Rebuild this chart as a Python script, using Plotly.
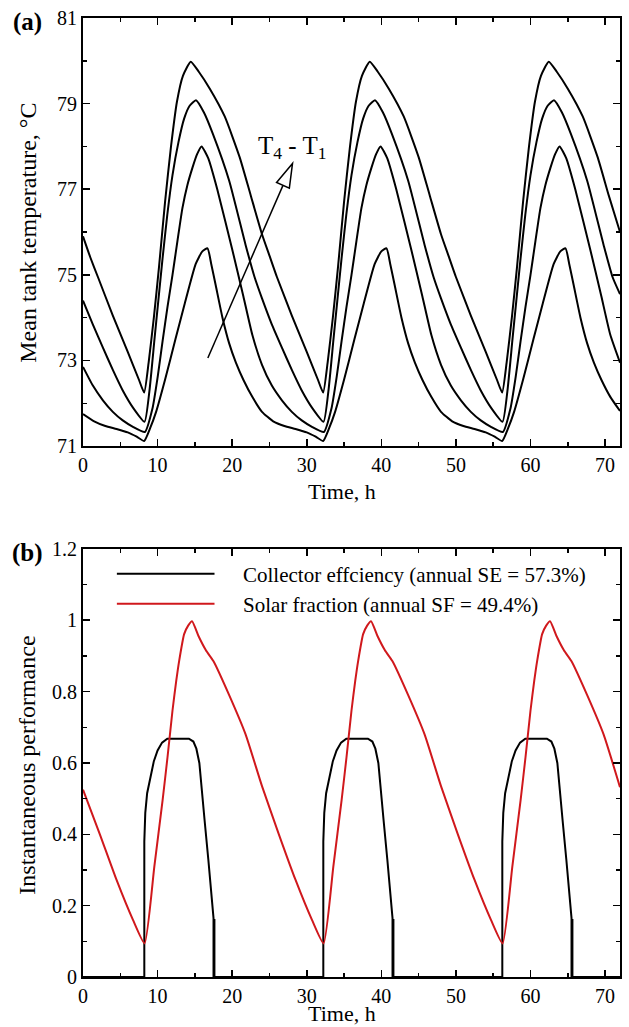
import plotly.graph_objects as go

# ---------------- data ----------------
# (a) mean tank temperatures, deg C
T4_t = [0, 1, 2, 4, 6, 7.5, 8.2, 8.8, 9.5, 10.2, 11, 11.8, 12.6, 13.4, 14.45, 15.5, 17, 19, 21, 22.5,
        24, 25, 26, 28, 30, 31.5, 32.2, 32.8, 33.5, 34.2, 35, 35.8, 36.6, 37.4, 38.45, 39.5, 41, 43, 45, 46.5,
        48, 49, 50, 52, 54, 55.5, 56.2, 56.8, 57.5, 58.2, 59, 59.8, 60.6, 61.4, 62.45, 63.5, 65, 67, 69, 70.5, 72]
T4_v = [75.9, 75.4, 74.95, 74.05, 73.2, 72.55, 72.25, 72.95, 74.0, 75.2, 76.7, 78.0, 79.05, 79.65, 79.98, 79.75, 79.35, 78.7, 77.75, 76.85,
        75.95, 75.45, 74.95, 74.05, 73.2, 72.55, 72.25, 72.95, 74.0, 75.2, 76.7, 78.0, 79.05, 79.65, 79.98, 79.75, 79.35, 78.7, 77.75, 76.85,
        75.95, 75.45, 74.95, 74.05, 73.2, 72.55, 72.25, 72.95, 74.0, 75.2, 76.7, 78.0, 79.05, 79.65, 79.98, 79.75, 79.35, 78.7, 77.75, 76.85, 76.0]

T3_t = [0, 1.3, 2.67, 4, 5.33, 6.7, 8.25, 8.9, 9.56, 10.1, 10.67, 11.3, 12.0, 12.8, 13.56, 14.3, 15.15, 16.2, 17.4, 19.6, 21.8, 23,
        24, 25.3, 26.67, 28, 29.33, 30.7, 32.25, 32.9, 33.56, 34.1, 34.67, 35.3, 36.0, 36.8, 37.56, 38.3, 39.15, 40.2, 41.4, 43.6, 45.8, 47,
        48, 49.3, 50.67, 52, 53.33, 54.7, 56.25, 56.9, 57.56, 58.1, 58.67, 59.3, 60.0, 60.8, 61.56, 62.3, 63.15, 64.2, 65.4, 67.6, 69.8, 71, 72]
T3_v = [74.4, 73.85, 73.3, 72.78, 72.3, 71.9, 71.57, 72.28, 73.45, 74.4, 75.39, 76.4, 77.33, 78.1, 78.65, 78.95, 79.08, 78.8, 78.3, 77.2, 75.7, 74.95,
        74.45, 73.85, 73.3, 72.78, 72.3, 71.9, 71.57, 72.28, 73.45, 74.4, 75.39, 76.4, 77.33, 78.1, 78.65, 78.95, 79.08, 78.8, 78.3, 77.2, 75.7, 74.95,
        74.45, 73.85, 73.3, 72.78, 72.3, 71.9, 71.57, 72.28, 73.45, 74.4, 75.39, 76.4, 77.33, 78.1, 78.65, 78.95, 79.08, 78.8, 78.3, 77.2, 75.7, 74.95, 74.55]

T2_t = [0, 1.3, 2.67, 4, 5.33, 6.7, 8.3, 9.33, 10.0, 10.67, 11.33, 12.0, 12.67, 13.33, 14.0, 14.67, 15.3, 15.9, 16.8, 18, 20, 21.5, 22.7,
        24, 25.3, 26.67, 28, 29.33, 30.7, 32.3, 33.33, 34.0, 34.67, 35.33, 36.0, 36.67, 37.33, 38.0, 38.67, 39.3, 39.9, 40.8, 42, 44, 45.5, 46.7,
        48, 49.3, 50.67, 52, 53.33, 54.7, 56.3, 57.33, 58.0, 58.67, 59.33, 60.0, 60.67, 61.33, 62.0, 62.67, 63.3, 63.9, 64.8, 66, 68, 69.5, 70.7, 72]
T2_v = [72.85, 72.42, 72.07, 71.8, 71.6, 71.45, 71.33, 71.89, 72.6, 73.45, 74.25, 75.0, 75.8, 76.56, 77.1, 77.5, 77.82, 78.0, 77.72, 77.0, 75.6, 74.5, 73.6,
        72.9, 72.42, 72.07, 71.8, 71.6, 71.45, 71.33, 71.89, 72.6, 73.45, 74.25, 75.0, 75.8, 76.56, 77.1, 77.5, 77.82, 78.0, 77.72, 77.0, 75.6, 74.5, 73.6,
        72.9, 72.42, 72.07, 71.8, 71.6, 71.45, 71.33, 71.89, 72.6, 73.45, 74.25, 75.0, 75.8, 76.56, 77.1, 77.5, 77.82, 78.0, 77.72, 77.0, 75.6, 74.5, 73.6, 72.95]

T1_t = [0, 1.5, 3, 4.5, 6, 7.2, 8.2, 9.0, 9.8, 11, 12.4, 13.6, 15.1, 16.0, 16.7, 17.2, 17.8, 18.7, 19.6, 20.5, 21.5, 22.7,
        24, 25.5, 27, 28.5, 30, 31.2, 32.2, 33.0, 33.8, 35, 36.4, 37.6, 39.1, 40.0, 40.7, 41.2, 41.8, 42.7, 43.6, 44.5, 45.5, 46.7,
        48, 49.5, 51, 52.5, 54, 55.2, 56.2, 57.0, 57.8, 59, 60.4, 61.6, 63.1, 64.0, 64.7, 65.2, 65.8, 66.7, 67.6, 68.5, 69.5, 70.7, 72]
T1_v = [71.75, 71.58, 71.47, 71.4, 71.32, 71.22, 71.12, 71.42, 71.8, 72.55, 73.5, 74.3, 75.25, 75.55, 75.62, 75.25, 74.75, 74.0, 73.4, 72.95, 72.55, 72.15,
        71.8, 71.58, 71.47, 71.4, 71.32, 71.22, 71.12, 71.42, 71.8, 72.55, 73.5, 74.3, 75.25, 75.55, 75.62, 75.25, 74.75, 74.0, 73.4, 72.95, 72.55, 72.15,
        71.8, 71.58, 71.47, 71.4, 71.32, 71.22, 71.12, 71.42, 71.8, 72.55, 73.5, 74.3, 75.25, 75.55, 75.62, 75.25, 74.75, 74.0, 73.4, 72.95, 72.55, 72.15, 71.82]

# (b) instantaneous performance
CE_t = [0, 8.22, 8.22, 8.35, 8.6, 9.0, 9.5, 10.0, 10.6, 11.3, 14.2, 14.8, 15.2, 15.6, 15.9, 16.3, 16.8, 17.2, 17.5, 17.5, 17.56, 17.56, 17.62, 17.62,
        32.22, 32.22, 32.35, 32.6, 33.0, 33.5, 34.0, 34.6, 35.3, 38.2, 38.8, 39.2, 39.6, 39.9, 40.3, 40.8, 41.2, 41.5, 41.5, 41.56, 41.56, 41.62, 41.62,
        56.22, 56.22, 56.35, 56.6, 57.0, 57.5, 58.0, 58.6, 59.3, 62.2, 62.8, 63.2, 63.6, 63.9, 64.3, 64.8, 65.2, 65.5, 65.5, 65.56, 65.56, 65.62, 65.62, 72]
CE_v = [0, 0, 0.38, 0.46, 0.515, 0.56, 0.605, 0.635, 0.657, 0.668, 0.668, 0.66, 0.64, 0.6, 0.54, 0.44, 0.33, 0.23, 0.165, 0, 0, 0.16, 0.16, 0,
        0, 0.38, 0.46, 0.515, 0.56, 0.605, 0.635, 0.657, 0.668, 0.668, 0.66, 0.64, 0.6, 0.54, 0.44, 0.33, 0.23, 0.165, 0, 0, 0.16, 0.16, 0,
        0, 0.38, 0.46, 0.515, 0.56, 0.605, 0.635, 0.657, 0.668, 0.668, 0.66, 0.64, 0.6, 0.54, 0.44, 0.33, 0.23, 0.165, 0, 0, 0.16, 0.16, 0, 0]

SF_t = [0, 2.26, 4.5, 6.7, 8.25, 9.56, 10.67, 11.33, 12.0, 12.5, 12.9, 13.56, 14.1, 14.62, 15.5, 16.5, 17.5, 19.6, 21.8,
        24, 26.26, 28.5, 30.7, 32.25, 33.56, 34.67, 35.33, 36.0, 36.5, 36.9, 37.56, 38.1, 38.62, 39.5, 40.5, 41.5, 43.6, 45.8,
        48, 50.26, 52.5, 54.7, 56.25, 57.56, 58.67, 59.33, 60.0, 60.5, 60.9, 61.56, 62.1, 62.62, 63.5, 64.5, 65.5, 67.6, 69.8, 72]
SF_v = [0.525, 0.40, 0.272, 0.16, 0.094, 0.309, 0.495, 0.616, 0.747, 0.83, 0.887, 0.961, 0.985, 0.997, 0.955, 0.915, 0.885, 0.79, 0.68,
        0.535, 0.40, 0.272, 0.16, 0.094, 0.309, 0.495, 0.616, 0.747, 0.83, 0.887, 0.961, 0.985, 0.997, 0.955, 0.915, 0.885, 0.79, 0.68,
        0.535, 0.40, 0.272, 0.16, 0.094, 0.309, 0.495, 0.616, 0.747, 0.83, 0.887, 0.961, 0.985, 0.997, 0.955, 0.915, 0.885, 0.79, 0.68, 0.532]

legend_labels = ["Collector effciency (annual SE = 57.3%)", "Solar fraction (annual SF = 49.4%)"]
xticks_top = [0, 10, 20, 30, 40, 50, 60, 70]
yticks_top = [71, 73, 75, 77, 79, 81]
yticks_bot = [0, 0.2, 0.4, 0.6, 0.8, 1, 1.2]

# ---------------- layout geometry (pixels) ----------------
W, H = 629, 1027
L, R, TOP, BOT = 83, 622, 16, 977
A_BOT = 445   # bottom of panel (a)
B_TOP = 548   # top of panel (b)

def pxx(x):
    return (x - L) / (R - L)

def pxy(y):
    return (BOT - y) / (BOT - TOP)

SERIF = "Liberation Serif"
RED = "#d0181c"

fig = go.Figure()
for tt, vv in [(T4_t, T4_v), (T3_t, T3_v), (T2_t, T2_v), (T1_t, T1_v)]:
    fig.add_trace(go.Scatter(x=tt, y=vv, mode="lines",
                             line=dict(color="black", width=2, shape="spline", smoothing=0.5),
                             xaxis="x", yaxis="y", showlegend=False, hoverinfo="skip"))
fig.add_trace(go.Scatter(x=CE_t, y=CE_v, mode="lines", line=dict(color="black", width=2),
                         xaxis="x2", yaxis="y2", showlegend=False, hoverinfo="skip"))
fig.add_trace(go.Scatter(x=SF_t, y=SF_v, mode="lines",
                         line=dict(color=RED, width=2, shape="spline", smoothing=0.5),
                         xaxis="x2", yaxis="y2", showlegend=False, hoverinfo="skip"))

tickfont = dict(family=SERIF, size=20, color="black")
minor_common = dict(ticks="inside", ticklen=4, tickwidth=1.5, tickcolor="black", showgrid=False)
ax_common = dict(showline=True, linewidth=2, linecolor="black", mirror="ticks", ticks="inside",
                 ticklen=7, tickwidth=1.5, tickcolor="black", showgrid=False, zeroline=False,
                 tickfont=tickfont, ticklabelstandoff=0)

fig.update_layout(
    width=W, height=H,
    margin=dict(l=L, r=W - R, t=TOP, b=H - BOT),
    paper_bgcolor="white", plot_bgcolor="white",
    xaxis=dict(domain=[0, 1], anchor="y", range=[0, 72], tickvals=xticks_top,
               minor=dict(dtick=5, tick0=0, **minor_common), **ax_common),
    yaxis=dict(domain=[pxy(A_BOT), 1], anchor="x", range=[71, 81], tickvals=yticks_top,
               minor=dict(dtick=1, tick0=71, **minor_common), **ax_common),
    xaxis2=dict(domain=[0, 1], anchor="y2", range=[0, 72], tickvals=xticks_top,
                minor=dict(dtick=5, tick0=0, **minor_common), **ax_common),
    yaxis2=dict(domain=[0, pxy(B_TOP)], anchor="x2", range=[0, 1.2], tickvals=yticks_bot,
                ticktext=[str(v) for v in yticks_bot],
                minor=dict(dtick=0.1, tick0=0, **minor_common), **ax_common),
)

ann = []
def text(x, y, s, size, **kw):
    d = dict(x=pxx(x), y=pxy(y), xref="paper", yref="paper", text=s, showarrow=False,
             font=dict(family=SERIF, size=size, color="black"), xanchor="center", yanchor="middle")
    d.update(kw)
    ann.append(d)

text(27, 20, "<b>(a)</b>", 25)
text(27, 552, "<b>(b)</b>", 25)
text(343, 490, "Time, h", 22)
text(343, 1014, "Time, h", 22)
text(27, 231, "Mean tank temperature, °C", 24, textangle=-90)
text(27, 765, "Instantaneous performance", 24, textangle=-90)
text(293, 146, "T<sub>4</sub> - T<sub>1</sub>", 25)
text(242, 574, legend_labels[0], 21, xanchor="left")
text(242, 604, legend_labels[1], 21, xanchor="left")
fig.update_layout(annotations=ann)

shapes = []
# legend line samples
shapes.append(dict(type="line", xref="paper", yref="paper", x0=pxx(117), x1=pxx(215), y0=pxy(573), y1=pxy(573),
                   line=dict(color="black", width=2)))
shapes.append(dict(type="line", xref="paper", yref="paper", x0=pxx(117), x1=pxx(215), y0=pxy(603), y1=pxy(603),
                   line=dict(color=RED, width=2)))

# arrow with hollow head (panel a), geometry in pixels -> paper
tail = (208.3, 356.7)
tip = (293.3, 161.7)
dx, dy = tip[0] - tail[0], tip[1] - tail[1]
ln = (dx * dx + dy * dy) ** 0.5
ux, uy = dx / ln, dy / ln
nx, ny = -uy, ux
HL, HW = 24, 7
bx, by = tip[0] - HL * ux, tip[1] - HL * uy
shapes.append(dict(type="line", xref="paper", yref="paper", x0=pxx(tail[0]), y0=pxy(tail[1]),
                   x1=pxx(bx), y1=pxy(by), line=dict(color="black", width=1.5)))
c1 = (bx + HW * nx, by + HW * ny)
c2 = (bx - HW * nx, by - HW * ny)
path = "M {} {} L {} {} L {} {} Z".format(pxx(tip[0]), pxy(tip[1]), pxx(c1[0]), pxy(c1[1]), pxx(c2[0]), pxy(c2[1]))
shapes.append(dict(type="path", xref="paper", yref="paper", path=path, fillcolor="white",
                   line=dict(color="black", width=1.5)))
fig.update_layout(shapes=shapes)

fig.write_html("out.html", config={"displayModeBar": False, "staticPlot": True},
               post_script="document.body.style.margin='0';document.body.style.overflow='hidden';")
